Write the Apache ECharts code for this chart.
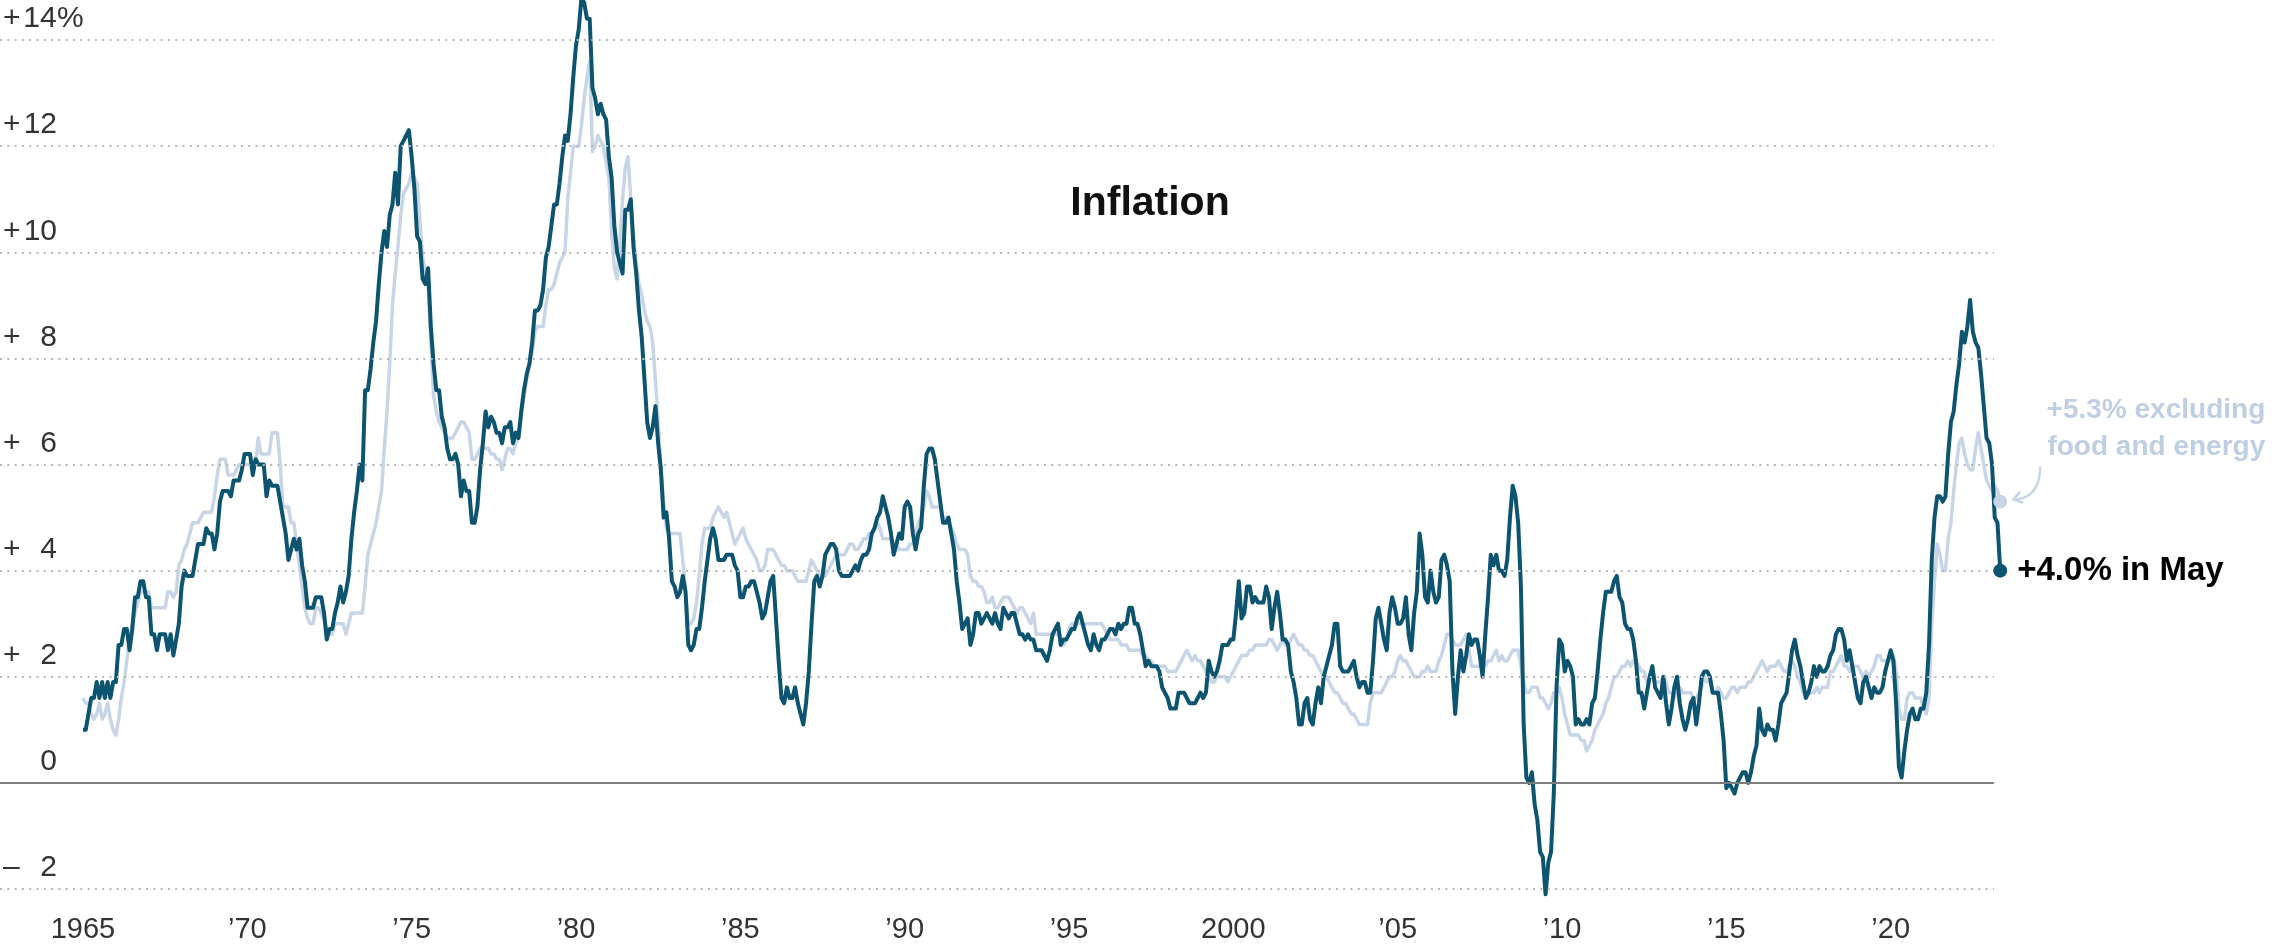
<!DOCTYPE html>
<html>
<head>
<meta charset="utf-8">
<script src="https://cdn.jsdelivr.net/npm/echarts@6/dist/echarts.min.js"></script>
<style>
html,body{margin:0;padding:0;background:#fff;}
#chart{width:2280px;height:951px;}
</style>
</head>
<body>
<div id="chart"></div>
<script>
// ---- DATA (monthly year-over-year % change, Jan 1965 - May 2023) ----
const startYear = 1965;
const lastMonthName = 'May';
const cpi = [
1.0,1.0,1.3,1.6,1.6,1.9,1.6,1.9,1.6,1.9,1.6,1.9,
1.9,2.6,2.6,2.9,2.9,2.5,2.9,3.5,3.5,3.8,3.8,3.5,
3.5,2.8,2.8,2.5,2.8,2.8,2.8,2.5,2.8,2.4,2.7,3.0,
3.7,4.0,3.9,3.9,3.9,4.2,4.5,4.5,4.5,4.8,4.7,4.7,
4.4,4.7,5.3,5.5,5.5,5.5,5.4,5.7,5.7,5.7,5.9,6.2,
6.2,6.2,5.8,6.1,6.0,6.0,6.0,5.4,5.7,5.6,5.6,5.6,
5.3,5.0,4.7,4.2,4.4,4.6,4.4,4.6,4.1,3.8,3.3,3.3,
3.3,3.5,3.5,3.5,3.2,2.7,2.9,2.9,3.2,3.4,3.7,3.4,
3.6,3.9,4.6,5.1,5.5,6.0,5.7,7.4,7.4,7.8,8.3,8.7,
9.4,10.0,10.4,10.1,10.7,10.9,11.5,10.9,12.0,12.1,12.2,12.3,
11.8,11.2,10.3,10.2,9.5,9.4,9.7,8.6,7.9,7.4,7.4,6.9,
6.7,6.3,6.1,6.1,6.2,6.0,5.4,5.7,5.5,5.5,4.9,4.9,
5.2,5.9,6.4,7.0,6.7,6.9,6.8,6.6,6.6,6.4,6.7,6.7,
6.8,6.4,6.6,6.5,7.0,7.4,7.7,7.9,8.3,8.9,8.9,9.0,
9.3,9.9,10.1,10.5,10.9,10.9,11.3,11.8,12.2,12.1,12.6,13.3,
13.9,14.2,14.8,14.7,14.4,14.4,13.1,12.9,12.6,12.8,12.6,12.5,
11.8,11.4,10.5,10.0,9.8,9.6,10.8,10.8,11.0,10.1,9.6,8.9,
8.4,7.6,6.8,6.5,6.7,7.1,6.4,5.9,5.0,5.1,4.6,3.8,
3.7,3.5,3.6,3.9,3.6,2.6,2.5,2.6,2.9,2.9,3.3,3.8,
4.2,4.6,4.8,4.6,4.2,4.2,4.2,4.3,4.3,4.3,4.1,4.0,
3.5,3.5,3.7,3.7,3.8,3.8,3.6,3.4,3.1,3.2,3.5,3.8,
3.9,3.1,2.3,1.6,1.5,1.8,1.6,1.6,1.8,1.5,1.3,1.1,
1.5,2.1,3.0,3.8,3.9,3.7,3.9,4.3,4.4,4.5,4.5,4.4,
4.0,3.9,3.9,3.9,3.9,4.0,4.1,4.0,4.2,4.3,4.3,4.4,
4.7,4.8,5.0,5.1,5.4,5.2,5.0,4.7,4.3,4.5,4.7,4.6,
5.2,5.3,5.2,4.7,4.4,4.7,4.8,5.6,6.2,6.3,6.3,6.1,
5.7,5.3,4.9,4.9,5.0,4.7,4.4,3.8,3.4,2.9,3.0,3.1,
2.6,2.8,3.2,3.2,3.0,3.1,3.2,3.1,3.0,3.2,3.0,2.9,
3.3,3.2,3.1,3.2,3.2,3.0,2.8,2.8,2.7,2.8,2.7,2.7,
2.5,2.5,2.5,2.4,2.3,2.5,2.8,2.9,3.0,2.6,2.7,2.7,
2.8,2.9,2.9,3.1,3.2,3.0,2.8,2.6,2.5,2.8,2.6,2.5,
2.7,2.7,2.8,2.9,2.9,2.8,3.0,2.9,3.0,3.0,3.3,3.3,
3.0,3.0,2.8,2.5,2.2,2.3,2.2,2.2,2.2,2.1,1.8,1.7,
1.6,1.4,1.4,1.4,1.7,1.7,1.7,1.6,1.5,1.5,1.5,1.6,
1.7,1.6,1.7,2.3,2.1,2.0,2.1,2.3,2.6,2.6,2.6,2.7,
2.7,3.2,3.8,3.1,3.2,3.7,3.7,3.4,3.5,3.4,3.4,3.4,
3.7,3.5,2.9,3.3,3.6,3.2,2.7,2.7,2.6,2.1,1.9,1.6,
1.1,1.1,1.5,1.6,1.2,1.1,1.5,1.8,1.5,2.0,2.2,2.4,
2.6,3.0,3.0,2.2,2.1,2.1,2.1,2.2,2.3,2.0,1.8,1.9,
1.9,1.7,1.7,2.3,3.1,3.3,3.0,2.7,2.5,3.2,3.5,3.3,
3.0,3.0,3.1,3.5,2.8,2.5,3.2,3.6,4.7,4.3,3.5,3.4,
4.0,3.6,3.4,3.5,4.2,4.3,4.1,3.8,2.1,1.3,2.0,2.5,
2.1,2.4,2.8,2.6,2.7,2.7,2.4,2.0,2.8,3.5,4.3,4.1,
4.3,4.0,4.0,3.9,4.2,5.0,5.6,5.4,4.9,3.7,1.1,0.1,
0.0,0.2,-0.4,-0.7,-1.3,-1.4,-2.1,-1.5,-1.3,-0.2,1.8,2.7,
2.6,2.1,2.3,2.2,2.0,1.1,1.2,1.1,1.1,1.2,1.1,1.5,
1.6,2.1,2.7,3.2,3.6,3.6,3.6,3.8,3.9,3.5,3.4,3.0,
2.9,2.9,2.7,2.3,1.7,1.7,1.4,1.7,2.0,2.2,1.8,1.7,
1.6,2.0,1.5,1.1,1.4,1.8,2.0,1.5,1.2,1.0,1.2,1.5,
1.6,1.1,1.5,2.0,2.1,2.1,2.0,1.7,1.7,1.7,1.3,0.8,
-0.1,0.0,-0.1,-0.2,0.0,0.1,0.2,0.2,0.0,0.2,0.5,0.7,
1.4,1.0,0.9,1.1,1.0,1.0,0.8,1.1,1.5,1.6,1.7,2.1,
2.5,2.7,2.4,2.2,1.9,1.6,1.7,1.9,2.2,2.0,2.2,2.1,
2.1,2.2,2.4,2.5,2.8,2.9,2.9,2.7,2.3,2.5,2.2,1.9,
1.6,1.5,1.9,2.0,1.8,1.6,1.8,1.7,1.7,1.8,2.1,2.3,
2.5,2.3,1.5,0.3,0.1,0.6,1.0,1.3,1.4,1.2,1.2,1.4,
1.4,1.7,2.6,4.2,5.0,5.4,5.4,5.3,5.4,6.2,6.8,7.0,
7.5,7.9,8.5,8.3,8.6,9.1,8.5,8.3,8.2,7.7,7.1,6.5,
6.4,6.0,5.0,4.9,4.0
];
const core = [
1.6,1.5,1.5,1.3,1.2,1.3,1.5,1.2,1.3,1.5,1.2,1.0,
0.9,1.2,1.6,1.9,2.3,2.7,3.0,3.2,3.4,3.6,3.6,3.6,
3.6,3.3,3.3,3.3,3.3,3.3,3.3,3.6,3.6,3.5,3.6,4.1,
4.2,4.4,4.5,4.7,4.9,4.9,4.9,5.0,5.1,5.1,5.1,5.1,
5.4,5.8,6.1,6.1,6.1,5.8,5.8,5.8,5.9,6.0,6.0,6.0,
6.0,6.0,6.0,6.0,6.5,6.2,6.2,6.2,6.2,6.6,6.6,6.6,
6.0,5.2,5.2,5.2,4.9,4.9,4.5,4.1,3.7,3.3,3.1,3.0,
3.0,3.3,3.3,3.2,3.1,2.9,2.8,2.8,3.0,3.0,3.0,3.0,
2.8,3.0,3.2,3.2,3.2,3.2,3.2,3.7,4.3,4.5,4.7,4.9,
5.2,5.5,6.3,7.0,7.9,9.0,9.6,10.1,10.7,11.1,11.2,11.3,
11.5,11.4,11.3,10.6,9.9,9.6,9.4,8.3,7.3,7.0,6.8,6.7,
6.6,6.5,6.5,6.5,6.6,6.7,6.8,6.8,6.7,6.6,6.1,6.1,
6.2,6.3,6.3,6.3,6.3,6.2,6.2,6.1,6.1,5.9,6.1,6.3,
6.3,6.2,6.4,6.5,6.9,7.3,7.6,7.9,8.1,8.5,8.6,8.6,
8.6,9.0,9.3,9.3,9.4,9.6,9.8,9.9,10.0,11.0,11.5,12.0,
12.0,12.0,12.4,12.9,13.3,13.6,11.9,12.0,12.2,12.1,12.0,11.7,
11.4,10.4,9.7,9.5,10.2,11.0,11.6,11.8,11.0,10.3,9.8,9.4,
9.2,8.9,8.7,8.6,8.3,7.6,6.8,5.9,5.3,4.8,4.7,4.7,
4.7,4.7,4.7,4.2,3.6,3.0,3.0,3.1,3.4,3.9,4.5,4.8,
4.8,4.8,5.0,5.1,5.2,5.1,5.0,5.1,4.9,4.7,4.5,4.6,
4.7,4.8,4.6,4.5,4.4,4.3,4.2,4.0,4.0,4.1,4.4,4.4,
4.4,4.3,4.2,4.1,4.1,4.0,4.0,4.0,3.9,3.8,3.8,3.8,
3.8,4.0,4.2,4.1,4.0,3.9,3.9,3.9,4.0,4.1,4.2,4.3,
4.3,4.3,4.3,4.4,4.5,4.5,4.4,4.4,4.5,4.6,4.6,4.7,
4.7,4.8,4.9,4.8,4.6,4.6,4.6,4.6,4.5,4.5,4.4,4.4,
4.4,4.4,4.5,4.5,4.7,4.9,5.0,5.2,5.5,5.4,5.2,5.2,
5.2,5.2,5.0,5.0,4.9,4.8,4.7,4.5,4.4,4.4,4.4,4.3,
3.9,3.8,3.8,3.7,3.7,3.6,3.4,3.4,3.5,3.3,3.3,3.4,
3.5,3.5,3.5,3.4,3.3,3.2,3.3,3.3,3.2,3.1,3.0,3.2,
2.8,2.8,2.8,2.8,2.8,2.8,2.8,2.8,2.8,2.7,2.6,2.7,
2.9,3.0,3.0,3.0,3.0,3.0,3.0,3.0,3.0,3.0,3.0,3.0,
3.0,2.9,2.8,2.7,2.7,2.7,2.7,2.6,2.6,2.6,2.5,2.5,
2.5,2.5,2.5,2.4,2.4,2.3,2.3,2.2,2.2,2.2,2.2,2.2,
2.1,2.1,2.1,2.1,2.2,2.3,2.4,2.5,2.4,2.3,2.4,2.3,
2.3,2.2,2.1,2.0,1.9,1.9,2.0,2.0,2.0,2.0,1.9,2.0,
2.1,2.2,2.3,2.4,2.4,2.4,2.5,2.5,2.6,2.6,2.6,2.6,
2.6,2.7,2.7,2.6,2.5,2.6,2.7,2.6,2.6,2.7,2.8,2.7,
2.6,2.6,2.5,2.5,2.4,2.4,2.3,2.2,2.1,2.0,2.0,1.9,
1.8,1.7,1.7,1.6,1.5,1.5,1.4,1.3,1.3,1.2,1.1,1.1,
1.1,1.1,1.5,1.7,1.7,1.7,1.7,1.8,1.9,2.0,2.0,2.1,
2.3,2.4,2.3,2.3,2.2,2.1,2.0,2.0,2.0,2.1,2.1,2.2,
2.1,2.1,2.1,2.3,2.4,2.6,2.8,2.8,2.7,2.6,2.6,2.6,
2.7,2.8,2.5,2.2,2.2,2.2,2.2,2.2,2.2,2.3,2.3,2.4,
2.5,2.3,2.4,2.3,2.3,2.4,2.5,2.5,2.5,2.2,1.9,1.7,
1.7,1.8,1.8,1.8,1.6,1.6,1.5,1.4,1.5,1.7,1.7,1.8,
1.6,1.3,1.1,0.9,0.9,0.9,0.9,0.8,0.8,0.6,0.7,0.8,
1.0,1.1,1.2,1.3,1.5,1.6,1.8,2.0,2.0,2.1,2.2,2.2,
2.3,2.2,2.3,2.3,2.2,2.1,2.1,1.9,2.0,2.0,1.9,1.9,
1.9,2.0,1.9,1.7,1.7,1.6,1.7,1.8,1.7,1.7,1.7,1.7,
1.6,1.6,1.7,1.8,2.0,1.9,1.9,1.7,1.7,1.8,1.7,1.6,
1.6,1.7,1.8,1.8,1.7,1.8,1.8,1.8,1.9,1.9,2.0,2.1,
2.2,2.3,2.2,2.1,2.2,2.2,2.2,2.3,2.2,2.1,2.1,2.2,
2.3,2.2,2.0,1.9,1.7,1.7,1.7,1.7,1.7,1.8,1.7,1.8,
1.8,1.8,2.1,2.1,2.2,2.3,2.4,2.2,2.2,2.1,2.2,2.2,
2.2,2.1,2.0,2.1,2.0,2.1,2.2,2.4,2.4,2.3,2.3,2.3,
2.3,2.4,2.1,1.4,1.2,1.2,1.6,1.7,1.7,1.6,1.6,1.6,
1.4,1.3,1.6,3.0,3.8,4.5,4.3,4.0,4.0,4.6,4.9,5.5,
6.0,6.4,6.5,6.2,6.0,5.9,5.9,6.3,6.6,6.3,6.0,5.7,
5.6,5.5,5.6,5.5,5.3
];
const yTicks = [-2, 0, 2, 4, 6, 8, 10, 12, 14];
const xTickYears = [1965, 1970, 1975, 1980, 1985, 1990, 1995, 2000, 2005, 2010, 2015, 2020];

// ---- build ----
const DARK = '#0c5470';
const LIGHT = '#c8d5e7';
const LABEL_LIGHT = '#bfcee3';
const FONT = '"Liberation Sans", Arial, sans-serif';
const X_MIN = 1962.475, X_MAX = 2023.6, GRID_END = 2023.14;
const toPts = arr => arr.map((v, i) => [startYear + i / 12, v]);
const cpiPts = toPts(cpi);
const corePts = toPts(core);
const cpiLast = cpiPts[cpiPts.length - 1];
const coreLast = corePts[corePts.length - 1];

const chart = echarts.init(document.getElementById('chart'), null, {renderer: 'canvas'});

function yLabel(v) {
  if (v === yTicks[yTicks.length - 1]) return '{s|+}{n|' + v + '}{p|%}';
  if (v === 0) return '{s| }{n|0}';
  return '{s|' + (v > 0 ? '+' : '\u2013') + '}{n|' + Math.abs(v) + '}';
}
function xLabel(v) {
  if (v === 1965 || v === 2000) return String(v);
  return '\u2019' + String(v).slice(2);
}
const lblStyle = {fontSize: 30, fontFamily: FONT, color: '#333'};

const gridLines = yTicks.map(v => [
  {coord: [X_MIN, v], lineStyle: v === 0
    ? {type: 'solid', color: '#7d7d7d', width: 2}
    : {type: [2, 5.3], color: '#b8b8b8', width: 2}},
  {coord: [GRID_END, v]}
]);

const baseOption = {
  animation: false,
  backgroundColor: '#fff',
  title: {
    text: 'Inflation', left: 1145, top: 178, textAlign: 'center',
    textStyle: {fontSize: 41, fontWeight: 'bold', fontFamily: FONT, color: '#111'}
  },
  grid: {left: 0, top: 40, width: 2009, bottom: 62, containLabel: false, outerBoundsMode: 'none'},
  xAxis: {
    type: 'value', min: X_MIN, max: X_MAX,
    splitLine: {show: false}, axisLine: {show: false}, axisTick: {show: false},
    axisLabel: {
      customValues: xTickYears, formatter: xLabel, margin: 26,
      fontSize: 29, fontFamily: FONT, color: '#333'
    }
  },
  yAxis: {
    type: 'value', min: yTicks[0], max: yTicks[yTicks.length - 1], interval: 2,
    axisLine: {show: false}, axisTick: {show: false},
    splitLine: {show: false},
    axisLabel: {
      inside: true, margin: 3, align: 'left', verticalAlign: 'middle',
      padding: [0, 0, 42, 0],
      formatter: yLabel,
      rich: {
        s: Object.assign({width: 20, align: 'left'}, lblStyle),
        n: Object.assign({width: 34, align: 'right'}, lblStyle),
        p: Object.assign({}, lblStyle)
      }
    }
  },
  series: [
    {
      name: 'grid', type: 'line', data: [], z: 1, silent: true,
      markLine: {
        silent: true, symbol: 'none', label: {show: false}, animation: false,
        emphasis: {disabled: true},
        data: gridLines
      }
    },
    {
      name: 'Excluding food and energy', type: 'line', data: corePts,
      showSymbol: false, clip: false, z: 2,
      lineStyle: {color: LIGHT, width: 3.5, join: 'round'}
    },
    {
      name: 'Inflation', type: 'line', data: cpiPts,
      showSymbol: false, clip: false, z: 3,
      lineStyle: {color: DARK, width: 4, join: 'round'}
    },
    {
      type: 'scatter', data: [coreLast], symbolSize: 14, z: 4, clip: false,
      itemStyle: {color: LIGHT, opacity: 1}
    },
    {
      type: 'scatter', data: [cpiLast], symbolSize: 14, z: 5, clip: false,
      itemStyle: {color: DARK, opacity: 1},
      label: {
        show: true, position: 'right', distance: 10, align: 'left',
        formatter: p => '+' + p.value[1].toFixed(1) + '% in ' + lastMonthName,
        fontSize: 33, fontWeight: 'bold', fontFamily: FONT, color: '#000', opacity: 1
      }
    }
  ]
};
chart.setOption(baseOption);

// annotation for the core series and curved arrow, placed from the last core point
const cp = chart.convertToPixel({gridIndex: 0}, coreLast);
const sx = cp[0] + 40, sy = cp[1] - 35;
const tx = cp[0] + 13, ty = cp[1] - 2;
chart.setOption({
  graphic: [
    {
      type: 'text', silent: true, x: cp[0] + 265, y: cp[1] - 91,
      style: {
        text: '+' + coreLast[1].toFixed(1) + '% excluding',
        fill: LABEL_LIGHT, fontSize: 28, fontWeight: 'bold', fontFamily: FONT,
        align: 'right', verticalAlign: 'middle'
      }
    },
    {
      type: 'text', silent: true, x: cp[0] + 265, y: cp[1] - 54,
      style: {
        text: 'food and energy',
        fill: LABEL_LIGHT, fontSize: 28, fontWeight: 'bold', fontFamily: FONT,
        align: 'right', verticalAlign: 'middle'
      }
    },
    {
      type: 'bezierCurve', silent: true,
      shape: {x1: sx, y1: sy, cpx1: sx, cpy1: sy + 20, cpx2: sx - 8, cpy2: ty - 1, x2: tx, y2: ty},
      style: {fill: null, stroke: LIGHT, lineWidth: 2.5}
    },
    {
      type: 'polyline', silent: true,
      shape: {points: [[tx + 7, ty - 8], [tx, ty], [tx + 10, ty + 3]]},
      style: {fill: null, stroke: LIGHT, lineWidth: 2.5}
    }
  ]
});
</script>
</body>
</html>
